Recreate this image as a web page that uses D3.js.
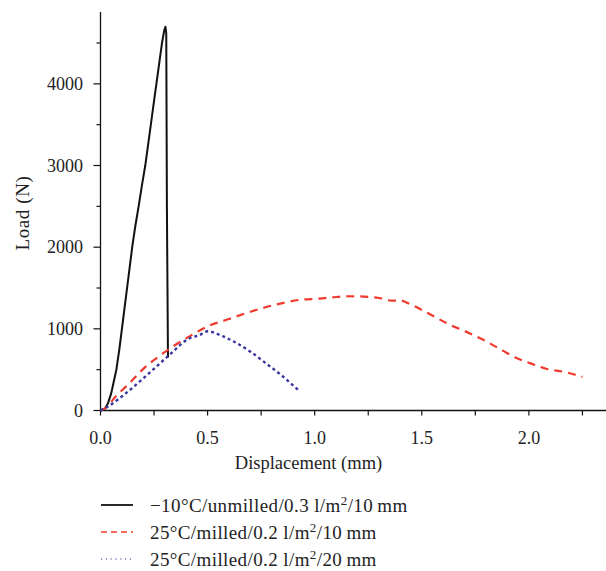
<!DOCTYPE html>
<html>
<head>
<meta charset="utf-8">
<script src="https://cdn.jsdelivr.net/npm/d3@7"></script>
<style>
  body { margin: 0; background: #fff; }
  text { font-family: "Liberation Serif", "DejaVu Serif", serif; fill: #222; }
</style>
</head>
<body>
<div id="chart"></div>
<script>
// displacement (mm) / load (N)
const unmilled10 = [
  [0, 0], [0.02, 20], [0.035, 90], [0.05, 210], [0.06, 330], [0.074, 500],
  [0.088, 750], [0.1, 1000], [0.112, 1250], [0.124, 1500], [0.136, 1750],
  [0.148, 2000], [0.162, 2250], [0.178, 2500], [0.193, 2750], [0.209, 3000],
  [0.235, 3500], [0.253, 3850], [0.261, 4000], [0.287, 4500],
  [0.298, 4660], [0.303, 4700], [0.307, 4620], [0.31, 2500], [0.315, 650]
];
const milled10 = [
  [0, 0], [0.03, 45], [0.07, 170], [0.13, 320], [0.2, 510], [0.3, 715],
  [0.43, 930], [0.5, 1030], [0.6, 1120], [0.7, 1210], [0.76, 1257],
  [0.85, 1315], [0.93, 1355], [1.02, 1370], [1.1, 1390], [1.16, 1399],
  [1.23, 1395], [1.3, 1378], [1.36, 1345], [1.4, 1348], [1.44, 1310],
  [1.53, 1190], [1.63, 1052], [1.72, 950], [1.8, 848], [1.88, 730],
  [1.94, 645], [2.0, 584], [2.08, 512], [2.17, 470], [2.25, 412]
];
const milled20 = [
  [0, 0], [0.035, 50], [0.13, 236], [0.22, 440], [0.315, 665], [0.42, 890],
  [0.46, 920], [0.5, 970], [0.57, 910], [0.62, 848], [0.7, 720],
  [0.77, 583], [0.85, 420], [0.93, 236]
];

const seriesNames = [
  "\u221210\u00b0C/unmilled/0.3 l/m\u00b2/10\u2009mm",
  "25\u00b0C/milled/0.2 l/m\u00b2/10\u2009mm",
  "25\u00b0C/milled/0.2 l/m\u00b2/20\u2009mm"
];
const xTicks = [0, 0.5, 1.0, 1.5, 2.0];
const xMinor = [0.25, 0.75, 1.25, 1.75, 2.25];
const yTicks = [0, 1000, 2000, 3000, 4000];
const yMinor = [500, 1500, 2500, 3500, 4500];

const width = 606, height = 571;
const svg = d3.select("#chart").append("svg")
  .attr("width", width)
  .attr("height", height);

let x = d3.scaleLinear().domain([0, 2.36]).range([100.5, 606]);
let y = d3.scaleLinear().domain([0, 4880]).range([410.5, 12]);

// axes
svg.append("line")
  .attr("x1", x(0)).attr("x2", width)
  .attr("y1", y(0)).attr("y2", y(0))
  .attr("stroke", "#111").attr("stroke-width", 1.3);
svg.append("line")
  .attr("x1", x(0)).attr("x2", x(0))
  .attr("y1", y(0)).attr("y2", y(4880))
  .attr("stroke", "#111").attr("stroke-width", 1.3);

svg.selectAll(".xt").data(xTicks.concat(xMinor)).enter().append("line")
  .attr("x1", d => x(d)).attr("x2", d => x(d))
  .attr("y1", y(0)).attr("y2", y(0) + 5)
  .attr("stroke", "#111").attr("stroke-width", 1.2);
svg.selectAll(".yt").data(yTicks).enter().append("line")
  .attr("x1", x(0) - 7).attr("x2", x(0))
  .attr("y1", d => y(d)).attr("y2", d => y(d))
  .attr("stroke", "#111").attr("stroke-width", 1.2);
svg.selectAll(".ym").data(yMinor).enter().append("line")
  .attr("x1", x(0) - 4).attr("x2", x(0))
  .attr("y1", d => y(d)).attr("y2", d => y(d))
  .attr("stroke", "#111").attr("stroke-width", 1.2);

svg.selectAll(".xl").data(xTicks).enter().append("text")
  .attr("x", d => x(d)).attr("y", 443.5)
  .attr("text-anchor", "middle")
  .style("font-size", "18px")
  .text(d => d.toFixed(1));
svg.selectAll(".yl").data(yTicks).enter().append("text")
  .attr("x", 83).attr("y", d => y(d) + 6)
  .attr("text-anchor", "end")
  .style("font-size", "18px")
  .text(d => d);

svg.append("text")
  .attr("x", 308.5).attr("y", 469)
  .attr("text-anchor", "middle")
  .style("font-size", "18.5px")
  .text("Displacement (mm)");
svg.append("text")
  .attr("transform", "translate(29, 213) rotate(-90)")
  .attr("text-anchor", "middle")
  .style("font-size", "19px")
  .style("letter-spacing", "0.6px")
  .text("Load (N)");

// curves
let line = d3.line().x(d => x(d[0])).y(d => y(d[1]));
let smooth = d3.line().x(d => x(d[0])).y(d => y(d[1])).curve(d3.curveMonotoneX);

svg.append("path")
  .datum(unmilled10)
  .attr("fill", "none")
  .attr("stroke", "#111")
  .attr("stroke-width", 2)
  .attr("stroke-linejoin", "round")
  .attr("d", line);

svg.append("path")
  .datum(milled10)
  .attr("fill", "none")
  .attr("stroke", "#f03a2e")
  .attr("stroke-width", 2.2)
  .attr("stroke-dasharray", "8,6")
  .attr("d", smooth);

svg.append("path")
  .datum(milled20)
  .attr("fill", "none")
  .attr("stroke", "#3a36a0")
  .attr("stroke-width", 2.4)
  .attr("stroke-dasharray", "3,3")
  .attr("d", smooth);

// legend
const legendStyles = [
  { stroke: "#111", dash: null, w: 1.8 },
  { stroke: "#f03a2e", dash: "6,4", w: 1.4 },
  { stroke: "#3a36a0", dash: "1.2,3.6", w: 1.2 }
];
const legend = svg.append("g");
seriesNames.forEach(function(name, i) {
  let ly = 505 + i * 27;
  legend.append("line")
    .attr("x1", 101).attr("x2", 133)
    .attr("y1", ly).attr("y2", ly)
    .attr("stroke", legendStyles[i].stroke)
    .attr("stroke-width", legendStyles[i].w)
    .attr("stroke-dasharray", legendStyles[i].dash);
  let t = legend.append("text")
    .attr("x", 150).attr("y", ly + 6.5)
    .style("font-size", "19px")
    .style("letter-spacing", "0.4px");
  let parts = name.split("\u00b2");
  t.append("tspan").text(parts[0]);
  t.append("tspan").attr("dy", -7).style("font-size", "13px").text("2");
  t.append("tspan").attr("dy", 7).text(parts[1]);
});
</script>
</body>
</html>
